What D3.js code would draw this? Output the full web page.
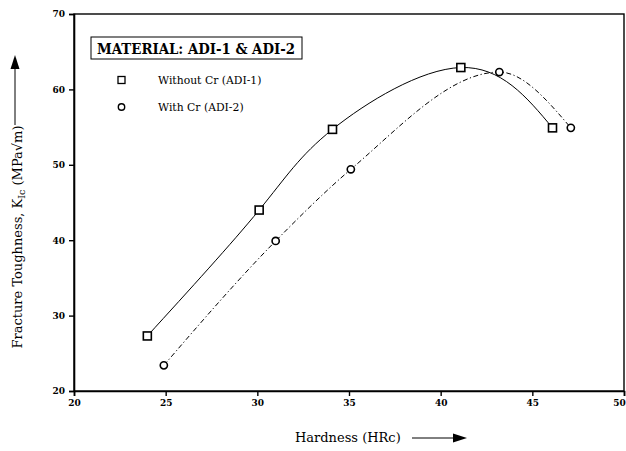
<!DOCTYPE html>
<html>
<head>
<meta charset="utf-8">
<script src="https://cdn.jsdelivr.net/npm/d3@7"></script>
<style>
  html, body { margin: 0; padding: 0; background: #fff; }
  svg { display: block; font-family: "DejaVu Serif", "Liberation Serif", serif; }
</style>
</head>
<body>
<svg id="chart" width="626" height="451"></svg>
<script>
// Hardness (HRc) vs fracture toughness K_Ic (MPa√m)
const xTicks = [20, 25, 30, 35, 40, 45, 50];
const yTicks = [20, 30, 40, 50, 60, 70];

const adi1Hardness = [24.0, 30.1, 34.1, 41.1, 46.1];
const adi1Toughness = [27.3, 44.0, 54.7, 62.9, 54.9];

const adi2Hardness = [24.9, 31.0, 35.1, 43.2, 47.1];
const adi2Toughness = [23.4, 39.9, 49.4, 62.3, 54.9];

const seriesNames = ["Without Cr (ADI-1)", "With Cr (ADI-2)"];
const legendTitle = "MATERIAL: ADI-1 & ADI-2";

const svg = d3.select("#chart");
const plotLeft = 74, plotRight = 624, plotTop = 14, plotBottom = 391;

const x = d3.scaleLinear().domain([20, 50]).range([plotLeft, plotRight]);
const y = d3.scaleLinear().domain([20, 70]).range([plotBottom, plotTop]);

// frame
svg.append("rect")
  .attr("x", plotLeft).attr("y", plotTop)
  .attr("width", plotRight - plotLeft).attr("height", plotBottom - plotTop)
  .attr("fill", "none").attr("stroke", "#000").attr("stroke-width", 1.4);

// axes
const xAxis = svg.append("g")
  .attr("transform", `translate(0,${plotBottom})`)
  .call(d3.axisBottom(x).tickValues(xTicks).tickSize(5).tickPadding(4));
const yAxis = svg.append("g")
  .attr("transform", `translate(${plotLeft},0)`)
  .call(d3.axisLeft(y).tickValues(yTicks).tickSize(5).tickPadding(4));

[xAxis, yAxis].forEach(g => {
  g.select(".domain").attr("stroke", "#000").attr("stroke-width", 1.6);
  g.selectAll(".tick line").attr("stroke", "#000").attr("stroke-width", 1.4);
  g.selectAll(".tick text")
    .attr("fill", "#000")
    .style("font-family", "'DejaVu Serif', serif")
    .style("font-size", "9px")
    .style("font-weight", "bold");
});
// last x label sits against the page edge; keep it inside
xAxis.selectAll(".tick text").filter(d => d === 50).attr("dx", -5);

// curves
const adi1 = adi1Hardness.map((h, i) => [h, adi1Toughness[i]]);
const adi2 = adi2Hardness.map((h, i) => [h, adi2Toughness[i]]);

const lineNatural = d3.line()
  .x(d => x(d[0])).y(d => y(d[1]))
  .curve(d3.curveNatural);
const lineMonotone = d3.line()
  .x(d => x(d[0])).y(d => y(d[1]))
  .curve(d3.curveMonotoneX);

svg.append("path").datum(adi1)
  .attr("d", lineNatural)
  .attr("fill", "none").attr("stroke", "#000").attr("stroke-width", 1);

svg.append("path").datum(adi2)
  .attr("d", lineMonotone)
  .attr("fill", "none").attr("stroke", "#000").attr("stroke-width", 1)
  .attr("stroke-dasharray", "5,2.5,1.2,2.5");

// markers
function drawSquare(g, cx, cy, size, sw) {
  g.append("rect")
    .attr("x", cx - size / 2).attr("y", cy - size / 2)
    .attr("width", size).attr("height", size)
    .attr("fill", "#fff").attr("stroke", "#000").attr("stroke-width", sw);
}
function drawCircle(g, cx, cy, r, sw) {
  g.append("circle")
    .attr("cx", cx).attr("cy", cy).attr("r", r)
    .attr("fill", "#fff").attr("stroke", "#000").attr("stroke-width", sw);
}

const marks = svg.append("g");
adi1.forEach(d => drawSquare(marks, x(d[0]), y(d[1]), 8, 1.6));
adi2.forEach(d => drawCircle(marks, x(d[0]), y(d[1]), 3.6, 1.6));

// legend
const legend = svg.append("g");
legend.append("rect")
  .attr("x", 91).attr("y", 37).attr("width", 211).attr("height", 22)
  .attr("fill", "#fff").attr("stroke", "#000").attr("stroke-width", 1);
legend.append("text")
  .attr("x", 97).attr("y", 53.5)
  .style("font-size", "14px").style("font-weight", "bold")
  .attr("textLength", 198).attr("lengthAdjust", "spacingAndGlyphs")
  .text(legendTitle);

seriesNames.forEach((name, i) => {
  const cy = 80 + i * 27;
  if (i === 0) drawSquare(legend, 121.5, cy, 7, 1.3);
  else drawCircle(legend, 121.5, cy, 3.2, 1.4);
  legend.append("text")
    .attr("x", 158).attr("y", cy + 4)
    .style("font-size", "10.8px")
    .text(name);
});

// x title with arrow
svg.append("text")
  .attr("x", 295).attr("y", 442)
  .style("font-size", "13px")
  .text("Hardness (HRc)");
svg.append("line")
  .attr("x1", 412).attr("y1", 438).attr("x2", 455).attr("y2", 438)
  .attr("stroke", "#000").attr("stroke-width", 1);
svg.append("path")
  .attr("d", "M467,438 L453,433.5 L453,442.5 Z")
  .attr("fill", "#000");

// y title with arrow
const yTitle = svg.append("text")
  .attr("transform", "translate(22,237) rotate(-90)")
  .attr("text-anchor", "middle")
  .style("font-size", "13px");
yTitle.append("tspan").text("Fracture Toughness, K");
yTitle.append("tspan").attr("dy", 3).style("font-size", "9.5px").text("Ic");
yTitle.append("tspan").attr("dy", -3).text(" (MPa\u221Am)");

svg.append("line")
  .attr("x1", 15).attr("y1", 125).attr("x2", 15).attr("y2", 68)
  .attr("stroke", "#000").attr("stroke-width", 1);
svg.append("path")
  .attr("d", "M15,55 L10.5,69 L19.5,69 Z")
  .attr("fill", "#000");
</script>
</body>
</html>
